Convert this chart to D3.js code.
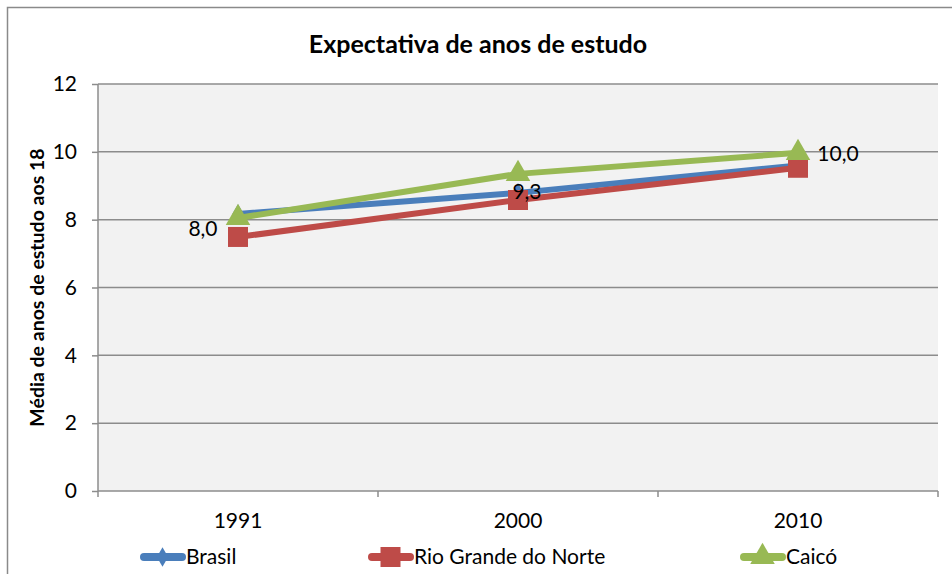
<!DOCTYPE html>
<html>
<head>
<meta charset="utf-8">
<script src="https://cdn.jsdelivr.net/npm/d3@7"></script>
<style>
  body { margin: 0; background: #fff; }
  svg { font-family: Lato, "Open Sans", sans-serif; }
</style>
</head>
<body>
<div id="chart-area"></div>
<script>
// chart data
const years = ['1991', '2000', '2010'];
const brasil = [8.17, 8.79, 9.6];
const rioGrande = [7.49, 8.58, 9.53];
const caico = [8.05, 9.35, 9.97];
const yTicks = [0, 2, 4, 6, 8, 10, 12];
const caicoLabels = ['8,0', '9,3', '10,0'];

const seriesNames = ['Brasil', 'Rio Grande do Norte', 'Caicó'];
const seriesColors = ['#4A7EBB', '#BE4B48', '#98B954'];
const seriesMarkers = [d3.symbolDiamond, d3.symbolSquare, d3.symbolTriangle];

const W = 952, H = 574;
const margin = { left: 98, top: 84, right: 14, bottom: 83 };
const width = W - margin.left - margin.right;
const height = H - margin.top - margin.bottom;

const svg = d3.select('#chart-area').append('svg')
    .attr('width', W)
    .attr('height', H);

// outer chart frame
svg.append('path')
    .attr('d', `M7.5,${H} V7.5 H${W}`)
    .attr('fill', 'none')
    .attr('stroke', '#8a8a8a')
    .attr('stroke-width', 1.5);

// title
svg.append('text')
    .attr('x', 478)
    .attr('y', 53)
    .attr('text-anchor', 'middle')
    .attr('font-size', '25px')
    .attr('font-weight', 'bold')
    .text('Expectativa de anos de estudo');

const g = svg.append('g')
    .attr('transform', `translate(${margin.left}, ${margin.top})`);

const x = d3.scaleBand()
    .domain(years)
    .range([0, width])
    .padding(0);

const y = d3.scaleLinear()
    .domain([0, 12])
    .range([height, 0]);

// plot background
g.append('rect')
    .attr('width', width)
    .attr('height', height)
    .attr('fill', '#F2F2F2');

// gridlines
g.selectAll('line.grid')
    .data(yTicks.filter(d => d > 0))
    .enter().append('line')
    .attr('class', 'grid')
    .attr('x1', 0)
    .attr('x2', width)
    .attr('y1', d => y(d))
    .attr('y2', d => y(d))
    .attr('stroke', '#8c8c8c')
    .attr('stroke-width', 1.5);

// y axis
const yAxisGroup = g.append('g')
    .call(d3.axisLeft(y).tickValues(yTicks).tickSize(6).tickPadding(15).tickFormat(d3.format('d')));
yAxisGroup.select('.domain').attr('stroke', '#8c8c8c').attr('stroke-width', 1.5).attr('d', `M0,${height}V0`);
yAxisGroup.selectAll('.tick line').attr('stroke', '#8c8c8c').attr('stroke-width', 1.5);
yAxisGroup.selectAll('.tick text').attr('font-size', '21px').attr('fill', '#000').attr('font-family', 'Lato, sans-serif');

// x axis with boundary ticks
const xAxisGroup = g.append('g')
    .attr('transform', `translate(0, ${height})`);
xAxisGroup.append('line')
    .attr('x1', 0).attr('x2', width)
    .attr('stroke', '#8c8c8c').attr('stroke-width', 1.5);
const bounds = years.map(d => x(d)).concat([width]);
xAxisGroup.selectAll('line.bt')
    .data(bounds)
    .enter().append('line')
    .attr('class', 'bt')
    .attr('x1', d => d).attr('x2', d => d)
    .attr('y1', 0).attr('y2', 6)
    .attr('stroke', '#8c8c8c').attr('stroke-width', 1.5);
xAxisGroup.selectAll('text')
    .data(years)
    .enter().append('text')
    .attr('x', d => x(d) + x.bandwidth() / 2)
    .attr('y', 37)
    .attr('text-anchor', 'middle')
    .attr('font-size', '21px')
    .text(d => d);

// y label
svg.append('text')
    .attr('transform', `translate(44, ${margin.top + height / 2}) rotate(-90)`)
    .attr('text-anchor', 'middle')
    .attr('font-size', '19.5px')
    .attr('font-weight', 'bold')
    .text('Média de anos de estudo aos 18');

// series
const series = [brasil, rioGrande, caico];
const cx = d => x(d) + x.bandwidth() / 2;
const line = d3.line()
    .x((d, i) => cx(years[i]))
    .y(d => y(d));

const markerSizes = [110, 400, 260];

series.forEach((vals, s) => {
    g.append('path')
        .datum(vals)
        .attr('d', line)
        .attr('fill', 'none')
        .attr('stroke', seriesColors[s])
        .attr('stroke-width', 6)
        .attr('stroke-linejoin', 'round');
    g.selectAll(`path.m${s}`)
        .data(vals)
        .enter().append('path')
        .attr('class', `m${s}`)
        .attr('transform', (d, i) => `translate(${cx(years[i])}, ${y(d)})`)
        .attr('d', d3.symbol().type(seriesMarkers[s]).size(markerSizes[s]))
        .attr('fill', seriesColors[s]);
});

// Caicó data labels
const labelOffsets = [[-35, 18], [9, 25], [40, 8]];
g.selectAll('text.lbl')
    .data(caico)
    .enter().append('text')
    .attr('class', 'lbl')
    .attr('x', (d, i) => cx(years[i]) + labelOffsets[i][0])
    .attr('y', (d, i) => y(d) + labelOffsets[i][1])
    .attr('text-anchor', 'middle')
    .attr('font-size', '21px')
    .text((d, i) => caicoLabels[i]);

// legend
const legendX = [140, 368, 740];
const legend = svg.selectAll('g.legend')
    .data(seriesNames)
    .enter().append('g')
    .attr('class', 'legend')
    .attr('transform', (d, i) => `translate(${legendX[i]}, 557)`);
legend.append('line')
    .attr('x1', 4).attr('x2', 42)
    .attr('stroke', (d, i) => seriesColors[i])
    .attr('stroke-width', 8)
    .attr('stroke-linecap', 'round');
legend.append('path')
    .attr('transform', 'translate(22.5, 0)')
    .attr('d', (d, i) => d3.symbol().type(seriesMarkers[i]).size(markerSizes[i])())
    .attr('fill', (d, i) => seriesColors[i]);
legend.append('text')
    .attr('x', 46)
    .attr('y', 7)
    .attr('font-size', '21px')
    .text(d => d);
</script>
</body>
</html>
